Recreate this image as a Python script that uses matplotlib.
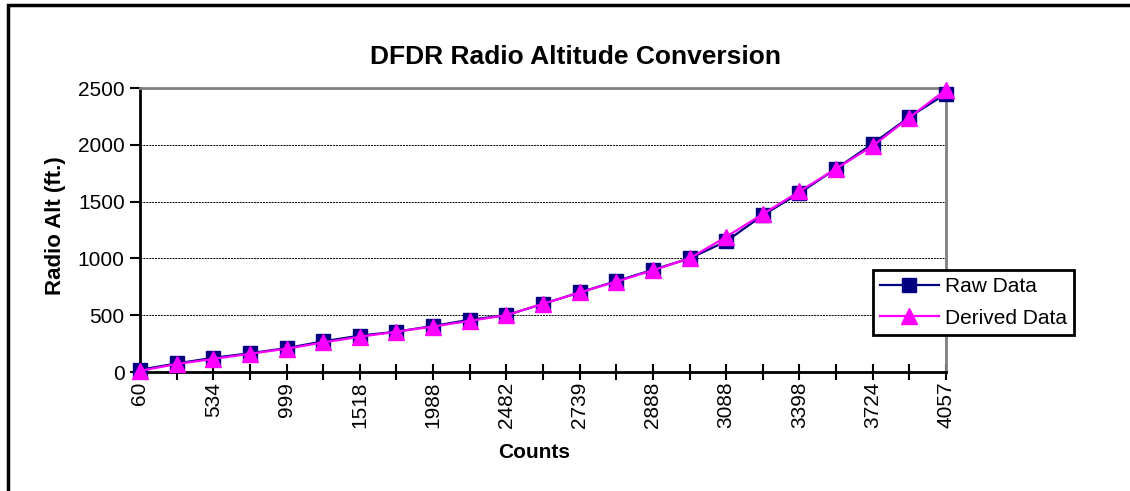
import matplotlib
matplotlib.use('Agg')
from matplotlib import pyplot as plt
from matplotlib.patches import Rectangle
import numpy as np

plt.rcParams['font.family'] = ['Liberation Sans', 'DejaVu Sans']

# counts (only every other one is labelled on the axis)
counts = [60, 300, 534, 770, 999, 1260, 1518, 1750, 1988, 2240, 2482, 2610,
          2739, 2815, 2888, 2990, 3088, 3240, 3398, 3560, 3724, 3890, 4057]
raw_data = [20, 75, 125, 165, 210, 270, 320, 355, 405, 460, 500, 600,
            700, 800, 900, 1000, 1150, 1380, 1575, 1790, 2010, 2245, 2450]
derived_data = [10, 70, 115, 160, 205, 260, 310, 355, 400, 450, 500, 600,
                700, 795, 895, 1000, 1190, 1390, 1590, 1790, 1990, 2240, 2485]

W, H = 1130, 491
fig = plt.figure(figsize=(W / 100, H / 100), dpi=100)
ax = fig.add_axes([140 / W, 1 - 372 / H, 806 / W, 284 / H])

# outer chart border (only top and left are visible in the picture)
fig.patches.append(Rectangle((8 / W, -0.1), 1.2, (H - 5) / H + 0.1,
                             transform=fig.transFigure, fill=False,
                             edgecolor='black', linewidth=2.5))

x = np.arange(len(counts))
ax.plot(x, raw_data, color='#000080', linewidth=1.6, marker='s',
        markersize=10, label='Raw Data', clip_on=False, zorder=3)
ax.plot(x, derived_data, color='#FF00FF', linewidth=1.6, marker='^',
        markersize=12, label='Derived Data', clip_on=False, zorder=4)

ax.set_xlim(0, len(counts) - 1)
ax.set_ylim(0, 2500)
ax.set_yticks(np.arange(0, 2501, 500))
ax.yaxis.grid(True, color='black', linestyle=(0, (2, 1)), linewidth=0.7)
ax.set_axisbelow(True)

ax.set_xticks(x)
ax.set_xticklabels([str(c) if i % 2 == 0 else '' for i, c in enumerate(counts)],
                   rotation=90)
ax.tick_params(axis='x', direction='inout', length=12, width=1.5,
               labelsize=15, pad=1)
ax.tick_params(axis='y', direction='out', length=7, width=1.5,
               labelsize=15, pad=4)

for s in ['left', 'bottom']:
    ax.spines[s].set_linewidth(2)
    ax.spines[s].set_color('black')
for s in ['top', 'right']:
    ax.spines[s].set_linewidth(2)
    ax.spines[s].set_color('#808080')

fig.text(575 / W, 1 - 57 / H, 'DFDR Radio Altitude Conversion', fontsize=19,
         fontweight='bold', ha='center', va='center')
fig.text(534 / W, 1 - 452 / H, 'Counts', fontsize=15, fontweight='bold',
         ha='center', va='center')
fig.text(55 / W, 1 - 226 / H, 'Radio Alt (ft.)', fontsize=16, fontweight='bold',
         ha='center', va='center', rotation=90)

leg = ax.legend(loc='upper left', bbox_to_anchor=(873 / W, 1 - 270 / H),
                bbox_transform=fig.transFigure, fontsize=15, frameon=True,
                fancybox=False, edgecolor='black', framealpha=1,
                borderpad=0.35, handlelength=2.8, labelspacing=0.6,
                handletextpad=0.3, borderaxespad=0)
leg.get_frame().set_linewidth(2)

fig.savefig('out.png', dpi=100)
